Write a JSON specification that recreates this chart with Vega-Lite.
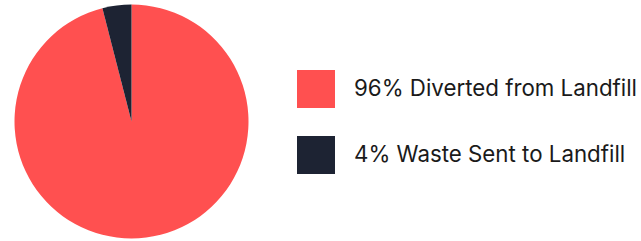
{
  "$schema": "https://vega.github.io/schema/vega-lite/v6.json",
  "width": 263,
  "height": 243,
  "padding": {"left": 0, "top": 0, "right": 378, "bottom": 0},
  "autosize": {"type": "none"},
  "background": "white",
  "config": {"view": {"stroke": null}},
  "data": {"values": [
    {"category": "96% Diverted from Landfill", "value": 96, "order": 1},
    {"category": "4% Waste Sent to Landfill", "value": 4, "order": 2}
  ]},
  "mark": {"type": "arc", "radius": 117},
  "encoding": {
    "theta": {"field": "value", "type": "quantitative", "stack": true},
    "order": {"field": "order", "type": "quantitative"},
    "color": {
      "field": "category",
      "type": "nominal",
      "sort": ["96% Diverted from Landfill", "4% Waste Sent to Landfill"],
      "scale": {"domain": ["96% Diverted from Landfill", "4% Waste Sent to Landfill"], "range": ["#FF5050", "#1D2333"]},
      "legend": {
        "title": null,
        "orient": "none",
        "legendX": 297,
        "legendY": 70,
        "symbolType": "square",
        "symbolSize": 1444,
        "symbolStrokeWidth": 0,
        "symbolOpacity": 1,
        "labelFont": "Inter",
        "labelFontSize": 22.3,
        "labelColor": "#1a1a1a",
        "labelOffset": 19,
        "rowPadding": 28,
        "labelLimit": 400
      }
    }
  }
}
